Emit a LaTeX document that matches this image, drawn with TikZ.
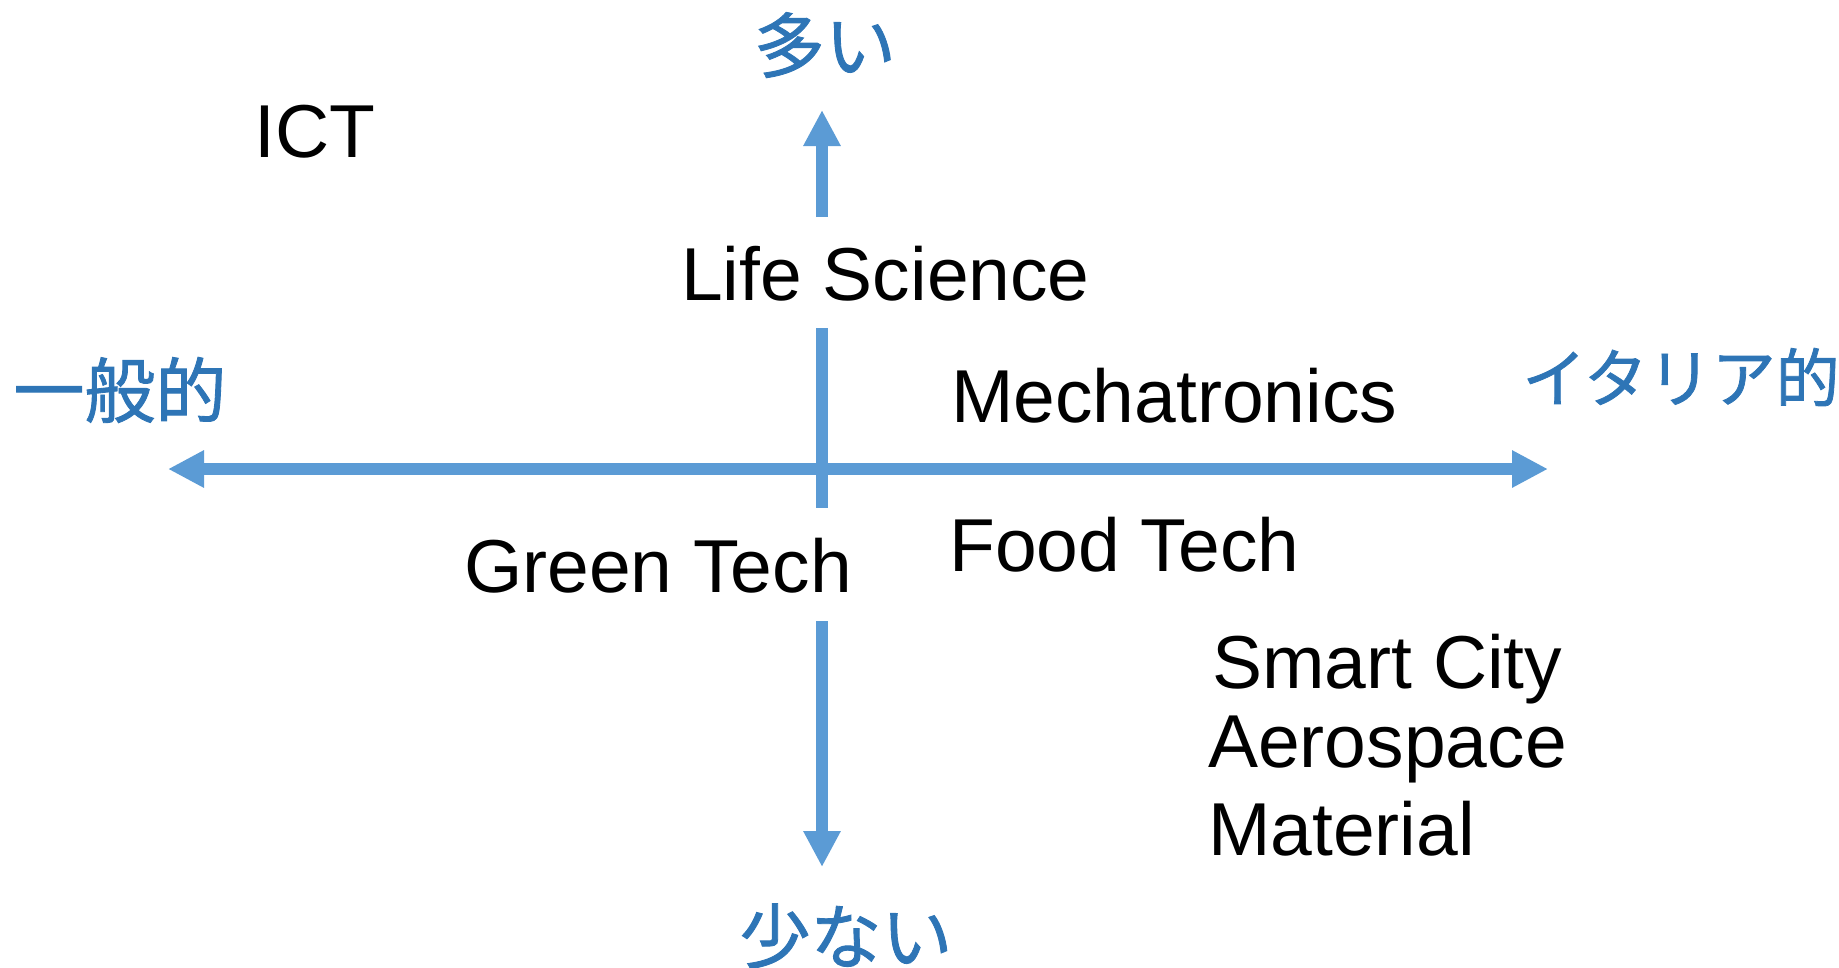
\documentclass[tikz,border=0pt]{standalone}
\usepackage{fontspec}
\setmainfont{Liberation Sans}
\newfontfamily\jpfont[FakeBold=1.2]{Noto Sans CJK JP}
\usetikzlibrary{arrows.meta}
\definecolor{axisblue}{HTML}{5B9BD5}
\definecolor{labelblue}{HTML}{2E75B6}
\tikzset{
  field/.style={inner sep=0pt, anchor=base west, text=black, font=\fontsize{75pt}{90pt}\selectfont},
  axislabel/.style={inner sep=0pt, anchor=base, text=labelblue, font=\jpfont\fontsize{71pt}{84pt}\selectfont},
  axisline/.style={draw=axisblue, line width=12pt},
  axisarrow/.style={axisline, -{Triangle[length=36pt 0,width=35pt 0]}},
  axisarrows/.style={axisline, {Triangle[length=36pt 0,width=35pt 0]}-{Triangle[length=36pt 0,width=35pt 0]}}
}
\begin{document}
\begin{tikzpicture}[x=1pt,y=-1pt]
\useasboundingbox (0,0) rectangle (1839,967);
% axis end points
\coordinate (hl) at (168,469);
\coordinate (hr) at (1548,469);
\coordinate (vt) at (822,110);
\coordinate (vb) at (822,867);
\coordinate (v1) at (822,217);
\coordinate (v2) at (822,328);
\coordinate (v3) at (822,508);
\coordinate (v4) at (822,621);
% axes
\draw[axisarrows] (hl) -- (hr);
\draw[axisarrow] (v1) -- (vt);
\draw[axisline] (v2) -- (v3);
\draw[axisarrow] (v4) -- (vb);
% axis labels
\node[axislabel] (many) at (825,72) {多い};
\node[axislabel] (few) at (846,963) {少ない};
\node[axislabel] (general) at (120,417) {一般的};
\node[axislabel, font=\jpfont\fontsize{64pt}{80pt}\selectfont] (italy) at (1681,402) {イタリア的};
% fields
\node[field] (ict) at (254,157) {ICT};
\node[field] (life) at (681,300) {Life Science};
\node[field] (mech) at (951,422) {Mechatronics};
\node[field] (food) at (949,571) {Food Tech};
\node[field] (green) at (464,592) {Green Tech};
\node[field] (smart) at (1212,688) {Smart City};
\node[field] (aero) at (1208,767) {Aerospace};
\node[field] (mat) at (1208,855) {Material};
\end{tikzpicture}
\end{document}
